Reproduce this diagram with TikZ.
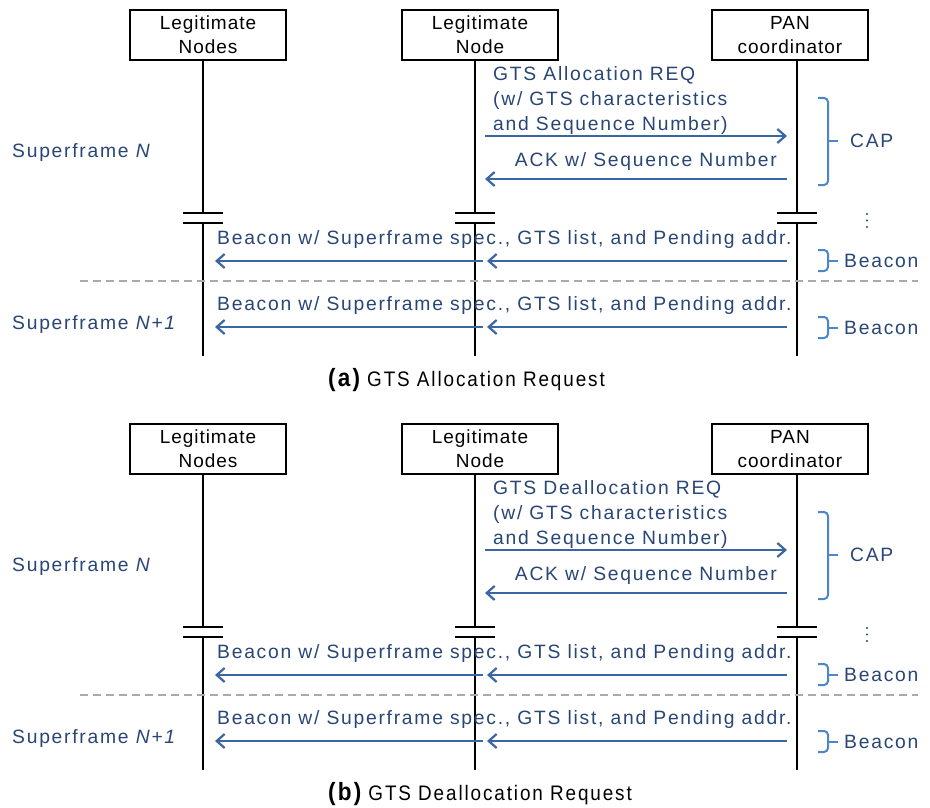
\documentclass[tikz,border=0pt]{standalone}
\usepackage{fontspec}
\setmainfont{Liberation Sans}
\newfontfamily\boxfont[LetterSpace=5]{Liberation Sans}
\newfontfamily\lblfont[LetterSpace=9]{Liberation Sans}
\newfontfamily\capfont[FakeStretch=0.9,LetterSpace=9]{Liberation Sans}
\usetikzlibrary{arrows.meta}

\definecolor{msgblue}{HTML}{3A67A3}
\definecolor{txtblue}{HTML}{284676}
\definecolor{brblue}{HTML}{4A86C8}
\definecolor{sepgray}{HTML}{AAAAAA}

\tikzset{
  entity/.style={draw, line width=1.8pt, minimum width=156pt, minimum height=50pt,
    align=center, inner sep=0pt, font=\boxfont\fontsize{19}{24}\selectfont},
  lifeline/.style={line width=2.2pt},
  brkmark/.style={line width=2.5pt},
  msg/.style={draw=msgblue, line width=2.4pt,
    -{Straight Barb[length=8pt,width=14pt,line width=2.2pt]}},
  lbl/.style={text=txtblue, inner sep=0pt, font=\lblfont\fontsize{19.3}{25}\selectfont},
  bracket/.style={draw=brblue, line width=2pt, rounded corners=4pt},
  separator/.style={draw=sepgray, line width=2pt, dash pattern=on 8pt off 5pt},
  caption/.style={inner sep=0pt, anchor=west}
}

% One message-sequence panel: #1 name prefix, #2 request kind,
% #3 sub-figure tag, #4 caption text
\newcommand\seqpanel[4]{%
  % entities
  \node[entity] (#1ln)  at (208,35) {Legitimate\\Nodes};
  \node[entity] (#1nd)  at (480,35) {Legitimate\\Node};
  \node[entity] (#1pan) at (790,35) {PAN\\coordinator};
  % lifeline break points and ends
  \foreach \n/\x in {L/203,M/475,P/797}{
    \coordinate (#1\n a) at (\x,213);
    \coordinate (#1\n b) at (\x,223);
    \coordinate (#1\n e) at (\x,356);
  }
  \draw[lifeline] (#1ln.south -| #1La)  -- (#1La);
  \draw[lifeline] (#1nd.south -| #1Ma)  -- (#1Ma);
  \draw[lifeline] (#1pan.south -| #1Pa) -- (#1Pa);
  \foreach \n in {L,M,P}{
    \draw[lifeline] (#1\n b) -- (#1\n e);
    \draw[brkmark] ([xshift=-20pt]#1\n a) -- ([xshift=20pt]#1\n a);
    \draw[brkmark] ([xshift=-20pt]#1\n b) -- ([xshift=20pt]#1\n b);
  }
  % message end points
  \coordinate (#1reqM) at (485,136); \coordinate (#1reqP) at (787,136);
  \coordinate (#1ackP) at (787,179); \coordinate (#1ackM) at (485,179);
  \coordinate (#1b1P) at (787,261); \coordinate (#1b1M) at (487,261);
  \coordinate (#1b1m) at (483,261); \coordinate (#1b1L) at (215,261);
  \coordinate (#1b2P) at (787,327); \coordinate (#1b2M) at (487,327);
  \coordinate (#1b2m) at (483,327); \coordinate (#1b2L) at (215,327);
  \draw[msg] (#1reqM) -- (#1reqP);
  \draw[msg] (#1ackP) -- (#1ackM);
  \draw[msg] (#1b1P) -- (#1b1M);
  \draw[msg] (#1b1m) -- (#1b1L);
  \draw[msg] (#1b2P) -- (#1b2M);
  \draw[msg] (#1b2m) -- (#1b2L);
  % message labels
  \node[lbl, anchor=west, align=left] (#1reqt) at (493,101)
    {GTS #2 REQ\\(w/ GTS characteristics\\and Sequence Number)};
  \node[lbl, anchor=east] (#1ackt) at (777,162) {ACK w/ Sequence Number};
  \node[lbl, anchor=west] (#1b1t) at (217,240)
    {Beacon w/ Superframe spec., GTS list, and Pending addr.};
  \node[lbl, anchor=west] (#1b2t) at (217,306)
    {Beacon w/ Superframe spec., GTS list, and Pending addr.};
  \node[lbl, anchor=west] (#1sfN)  at (12,153) {Superframe \textit{N}};
  \node[lbl, anchor=west] (#1sfN1) at (12,325) {Superframe \textit{N+1}};
  % period brackets
  \draw[bracket] (818,98) -- (828,98) -- (828,185) -- (818,185);
  \draw[brblue, line width=2pt] (828,141) -- (838,141);
  \node[lbl, anchor=west] (#1cap) at (850,141) {CAP};
  \draw[bracket] (818,250) -- (828,250) -- (828,271) -- (818,271);
  \draw[brblue, line width=2pt] (828,261) -- (838,261);
  \node[lbl, anchor=west] (#1bcn1) at (844,261) {Beacon};
  \draw[bracket] (818,317) -- (828,317) -- (828,338) -- (818,338);
  \draw[brblue, line width=2pt] (828,328) -- (838,328);
  \node[lbl, anchor=west] (#1bcn2) at (844,328) {Beacon};
  % omitted beacon intervals
  \foreach \yy in {214,220.5,227} \fill[txtblue] (867,\yy) circle (1.1pt);
  % superframe boundary
  \coordinate (#1sepL) at (80,281); \coordinate (#1sepR) at (918,281);
  \draw[separator] (#1sepL) -- (#1sepR);
  % caption
  \node[caption] (#1caption) at (328,380)
    {\capfont\fontsize{25}{26}\selectfont\bfseries(#3)\hspace{7pt}\mdseries\fontsize{21}{24}\selectfont #4};
}

\begin{document}
\begin{tikzpicture}[x=1pt, y=-1pt]
  \useasboundingbox[fill=white] (0,0) rectangle (930,808);
  \seqpanel{a}{Allocation}{a}{GTS Allocation Request}
  \begin{scope}[yshift=-414pt]
    \seqpanel{b}{Deallocation}{b}{GTS Deallocation Request}
  \end{scope}
\end{tikzpicture}
\end{document}
